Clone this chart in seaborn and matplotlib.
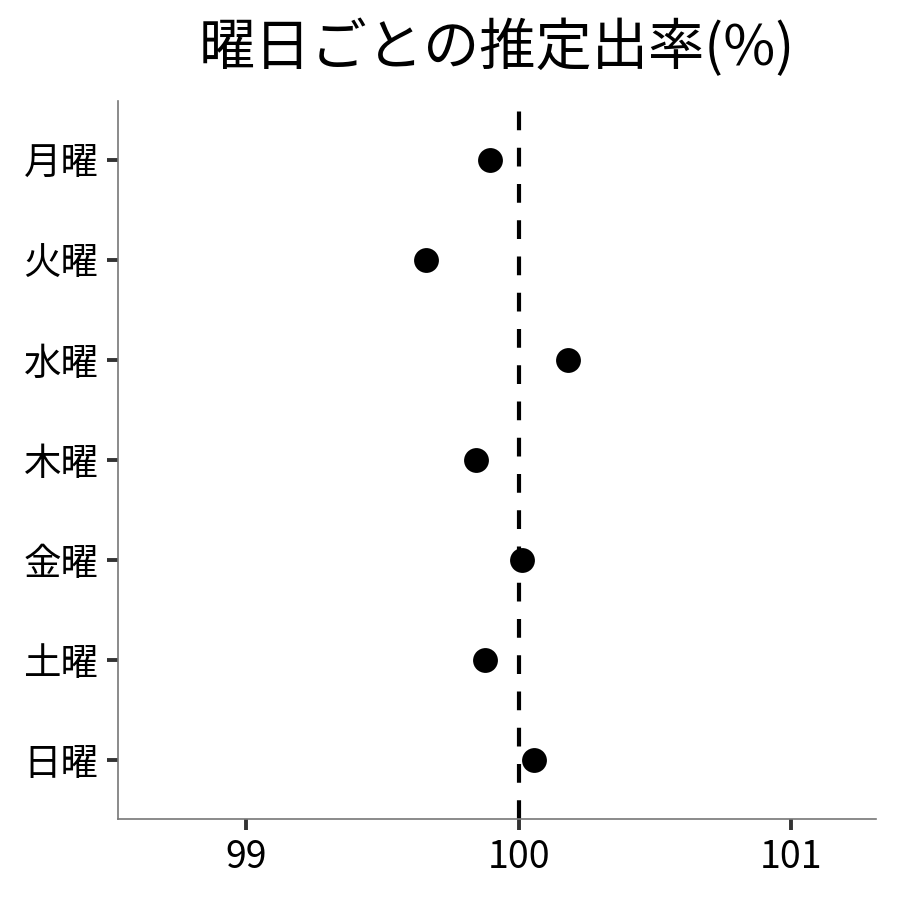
import matplotlib
matplotlib.use('Agg')
import matplotlib.pyplot as plt
import seaborn as sns
import pandas as pd

days = ["月曜", "火曜", "水曜", "木曜", "金曜", "土曜", "日曜"]
rates = [99.895, 99.66, 100.18, 99.845, 100.013, 99.875, 100.057]
ref_value = 100
x_ticks = [99, 100, 101]

sns.set_style("white")
plt.rcParams['font.family'] = ['Noto Sans CJK JP', 'DejaVu Sans']

df = pd.DataFrame({"day": days, "rate": rates})

fig = plt.figure(figsize=(9, 9), dpi=100)
ax = fig.add_axes([0.131, 0.09, 0.842, 0.798])

ax.axvline(ref_value, color='black', linestyle=(0, (4.5, 4.2)), linewidth=3.0, zorder=1)
sns.scatterplot(data=df, x="rate", y="day", color='black', s=320, edgecolor='black',
                linewidth=0, ax=ax, zorder=3)

ax.set_xlim(98.53, 101.31)
ax.set_ylim(6.59, -0.59)
ax.set_xticks(x_ticks)
ax.set_xlabel("")
ax.set_ylabel("")
ax.set_title("曜日ごとの推定出率(%)", fontsize=40.5, pad=26, color='black')

for side in ['top', 'right']:
    ax.spines[side].set_visible(False)
for side in ['left', 'bottom']:
    ax.spines[side].set_color('#777777')
    ax.spines[side].set_linewidth(1.2)
ax.tick_params(axis='both', which='major', length=8, width=2.8, color='#333333',
               labelsize=27, labelcolor='black', pad=6, direction='out')
ax.tick_params(axis='x', bottom=True)
ax.tick_params(axis='y', left=True)

plt.savefig("out.png", dpi=100)
plt.close()
